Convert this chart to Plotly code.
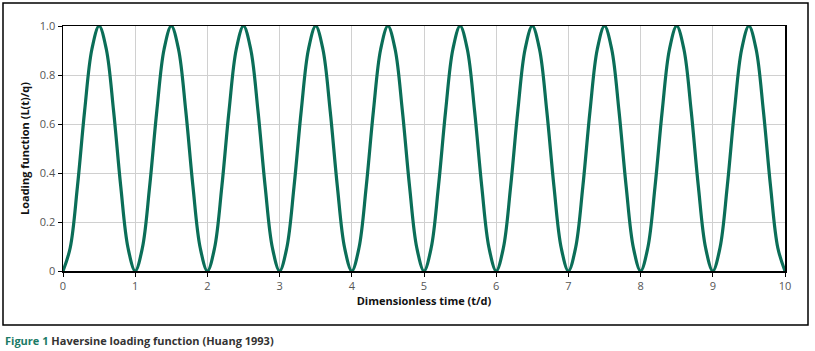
import plotly.graph_objects as go

# Dimensionless time t/d, step 0.1
time_td = [round(i * 0.1, 1) for i in range(101)]
# Loading function L(t)/q at each 0.1 step
loading = [
    0.0, 0.095, 0.345, 0.655, 0.905, 1.0, 0.905, 0.655, 0.345, 0.095,
    0.0, 0.095, 0.345, 0.655, 0.905, 1.0, 0.905, 0.655, 0.345, 0.095,
    0.0, 0.095, 0.345, 0.655, 0.905, 1.0, 0.905, 0.655, 0.345, 0.095,
    0.0, 0.095, 0.345, 0.655, 0.905, 1.0, 0.905, 0.655, 0.345, 0.095,
    0.0, 0.095, 0.345, 0.655, 0.905, 1.0, 0.905, 0.655, 0.345, 0.095,
    0.0, 0.095, 0.345, 0.655, 0.905, 1.0, 0.905, 0.655, 0.345, 0.095,
    0.0, 0.095, 0.345, 0.655, 0.905, 1.0, 0.905, 0.655, 0.345, 0.095,
    0.0, 0.095, 0.345, 0.655, 0.905, 1.0, 0.905, 0.655, 0.345, 0.095,
    0.0, 0.095, 0.345, 0.655, 0.905, 1.0, 0.905, 0.655, 0.345, 0.095,
    0.0, 0.095, 0.345, 0.655, 0.905, 1.0, 0.905, 0.655, 0.345, 0.095,
    0.0,
]
x_ticks = [0, 1, 2, 3, 4, 5, 6, 7, 8, 9, 10]
x_tick_labels = ["0", "1", "2", "3", "4", "5", "6", "7", "8", "9", "10"]
y_ticks = [0, 0.2, 0.4, 0.6, 0.8, 1.0]
y_tick_labels = ["0", "0.2", "0.4", "0.6", "0.8", "1.0"]

FONT = "Open Sans"
W, H = 815, 351
PL, PR, PT, PB = 63, 785, 26, 271
L, T, R, B = PL, PT, W - PR, H - PB
pw, ph = PR - PL, PB - PT


def px(x):
    return (x - PL) / pw


def py(y):
    return (PB - y) / ph


fig = go.Figure()
fig.add_trace(go.Scatter(
    x=time_td, y=loading, mode="lines",
    line=dict(color="#0b6e58", width=3.2, shape="spline", smoothing=1.0),
    showlegend=False, hoverinfo="skip",
))

fig.update_layout(
    width=W, height=H,
    margin=dict(l=L, r=R, t=T, b=B, autoexpand=False),
    paper_bgcolor="white", plot_bgcolor="white",
    font=dict(family=FONT, size=11, color="#555555"),
    xaxis=dict(
        range=[0, 10], tickvals=x_ticks, ticktext=x_tick_labels,
        showgrid=True, gridcolor="#d0d0d0", gridwidth=1,
        showline=True, linecolor="black", linewidth=1.5, mirror=True,
        ticks="outside", ticklen=4, tickcolor="black",
        zeroline=False, automargin=False,
        title=dict(text="<b>Dimensionless time (t/d)</b>",
                   font=dict(family=FONT, size=11, color="#111111"), standoff=4),
    ),
    yaxis=dict(
        range=[0, 1.0], tickvals=y_ticks, ticktext=y_tick_labels,
        showgrid=True, gridcolor="#d0d0d0", gridwidth=1,
        showline=True, linecolor="black", linewidth=1.5, mirror=True,
        ticks="outside", ticklen=4, tickcolor="black",
        zeroline=False, automargin=False,
        title=dict(text="<b>Loading function (L(t)/q)</b>",
                   font=dict(family=FONT, size=11, color="#111111"), standoff=8),
    ),
    shapes=[dict(
        type="rect", xref="paper", yref="paper",
        x0=px(3), x1=px(808), y0=py(325), y1=py(3),
        line=dict(color="black", width=1.5), fillcolor="rgba(0,0,0,0)",
        layer="below",
    )],
    annotations=[dict(
        xref="paper", yref="paper", x=px(3), y=py(341),
        xanchor="left", yanchor="middle", showarrow=False,
        text="<b><span style='color:#1b7a66'>Figure 1</span> Haversine loading function (Huang 1993)</b>",
        font=dict(family=FONT, size=11, color="#333333"),
    )],
)

fig.write_html(
    "out.html",
    config={"displayModeBar": False, "staticPlot": True},
    post_script="document.body.style.margin='0px';document.body.style.overflow='hidden';",
)
